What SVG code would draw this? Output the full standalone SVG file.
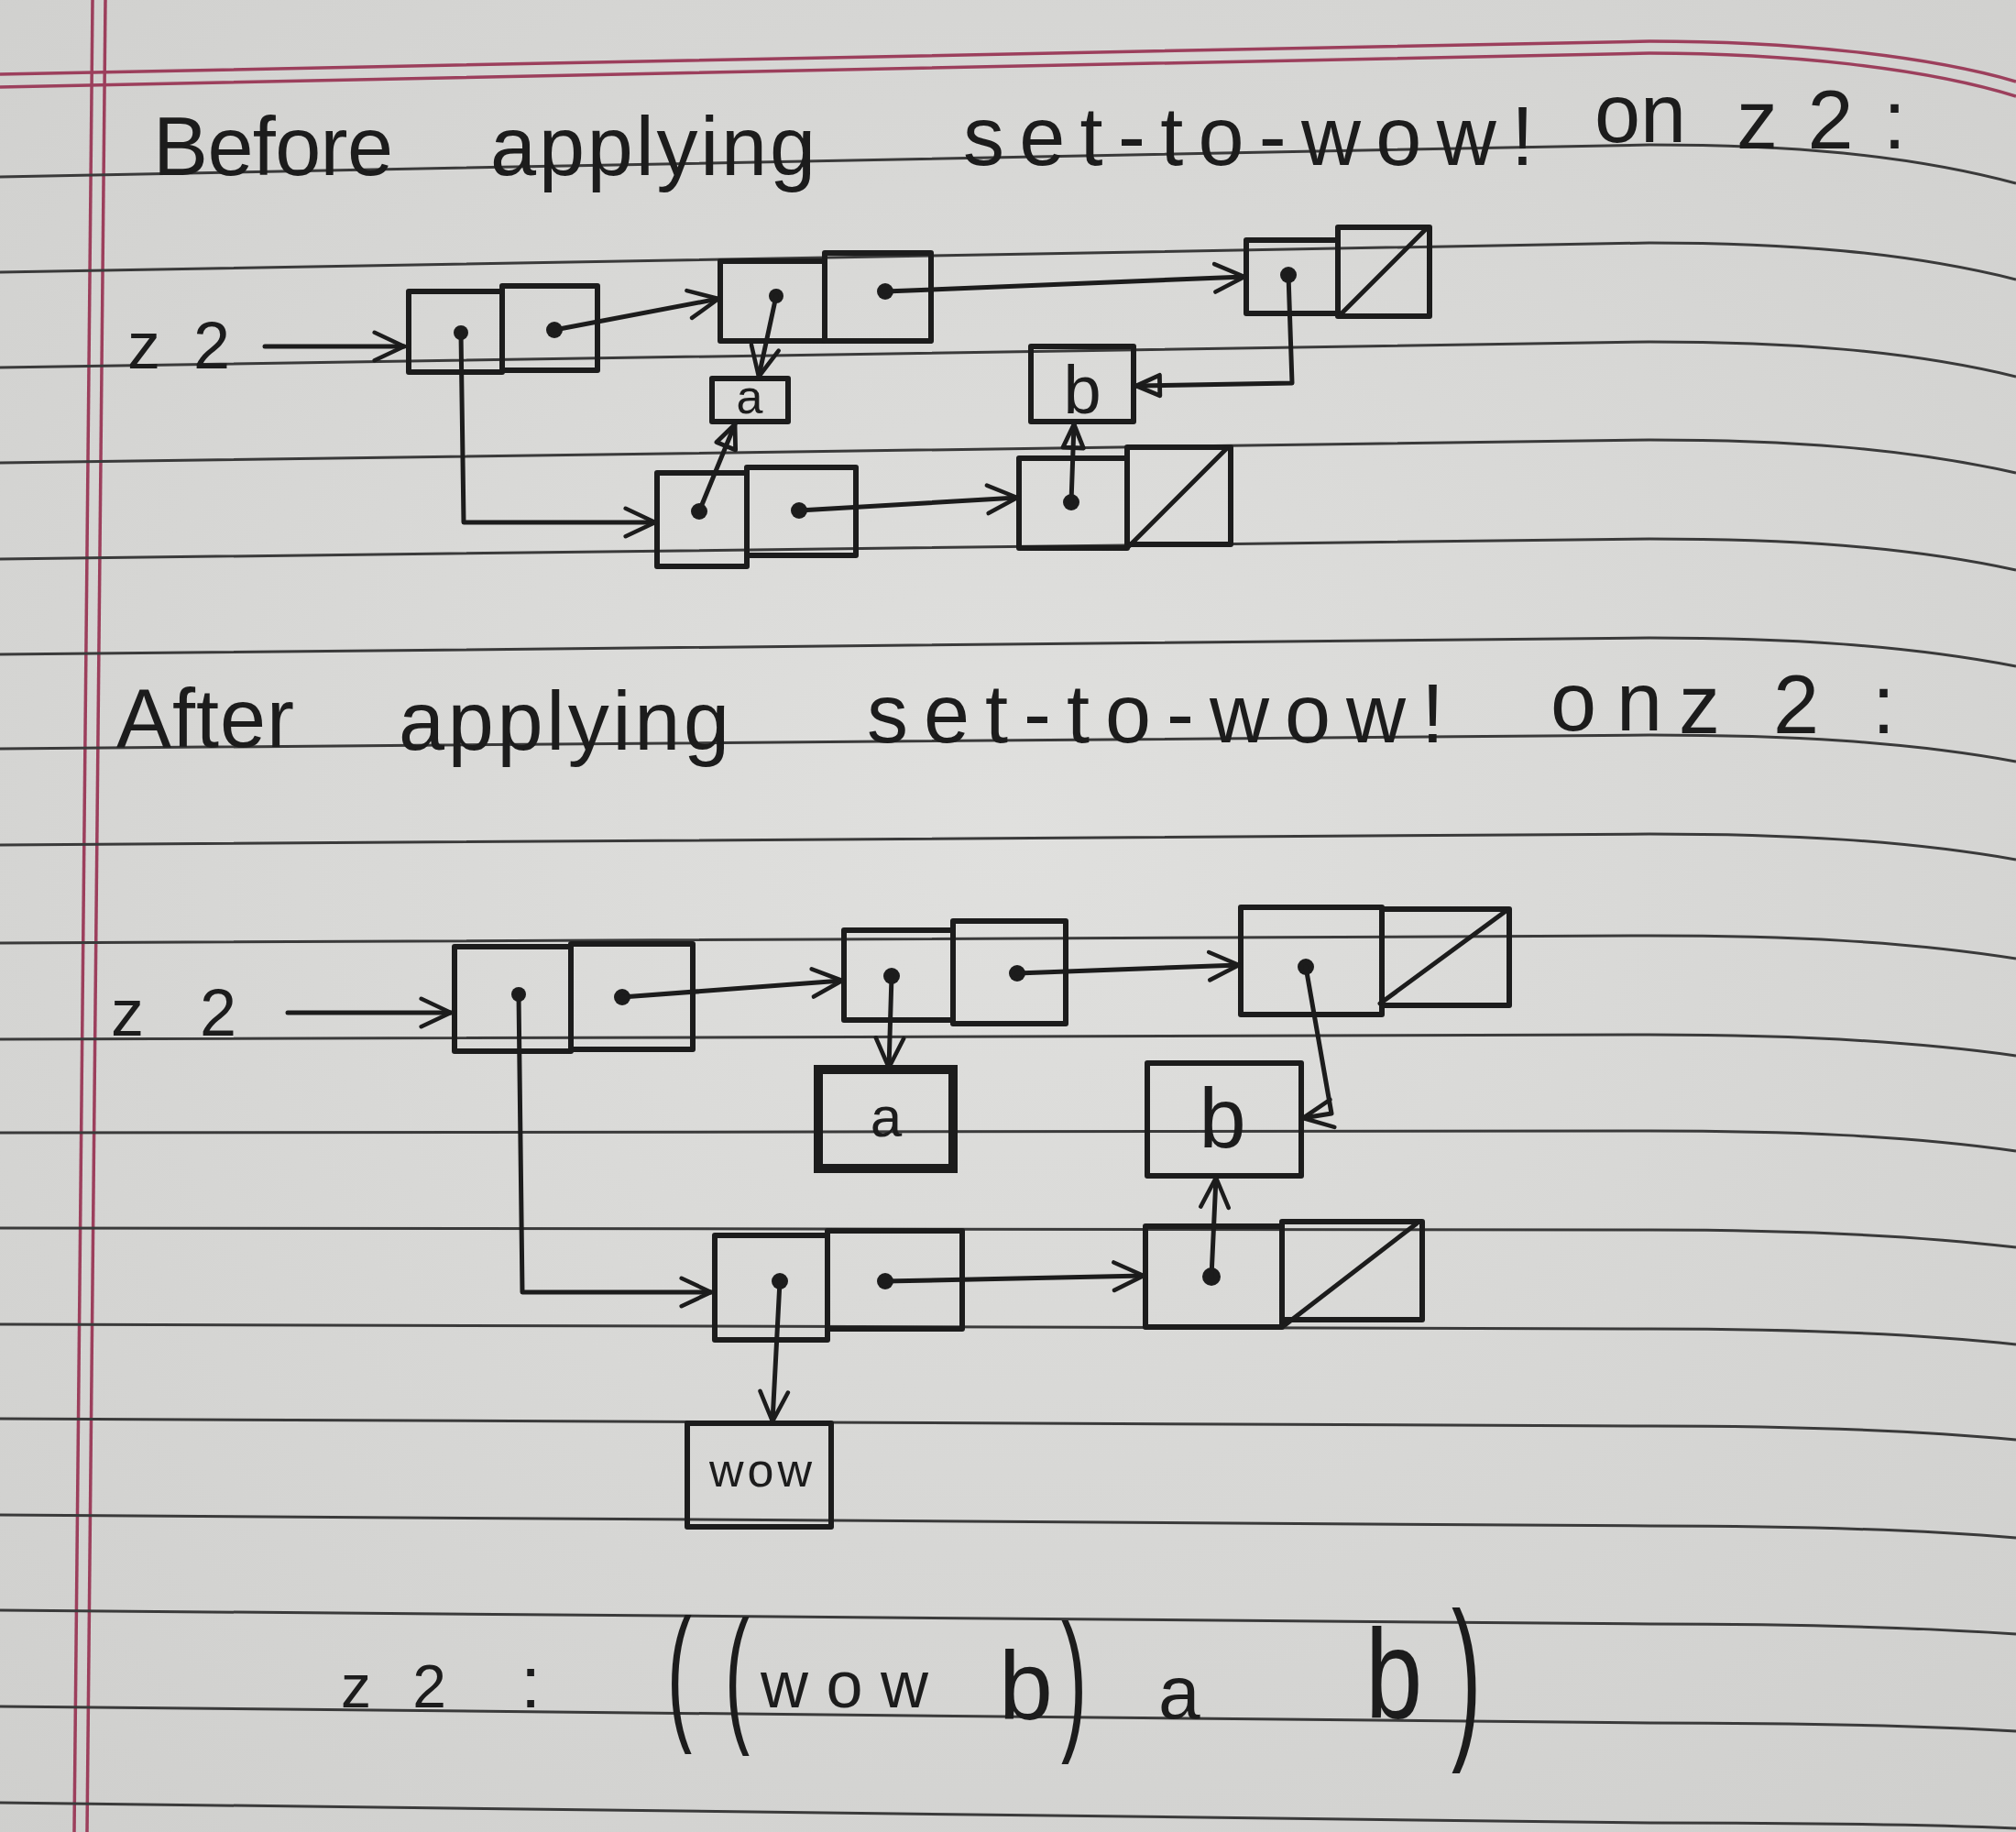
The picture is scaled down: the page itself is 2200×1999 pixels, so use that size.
<svg xmlns="http://www.w3.org/2000/svg" width="2200" height="1999" viewBox="0 0 2200 1999">
<defs>
<radialGradient id="paper" cx="0.5" cy="0.45" r="0.75">
<stop offset="0" stop-color="#e0e0de"/>
<stop offset="1" stop-color="#cfcfcd"/>
</radialGradient>
<marker id="arr" viewBox="0 0 20 20" refX="19" refY="10" markerWidth="38" markerHeight="38" markerUnits="userSpaceOnUse" orient="auto">
<path d="M2,2 L19,10 L2,18" fill="none" stroke="#1c1c1c" stroke-width="2.4" stroke-linecap="round" stroke-linejoin="round"/>
</marker>
<marker id="tri" viewBox="0 0 20 20" refX="19" refY="10" markerWidth="32" markerHeight="32" markerUnits="userSpaceOnUse" orient="auto">
<path d="M3,3 L19,10 L3,17 Z" fill="none" stroke="#1c1c1c" stroke-width="3" stroke-linejoin="round"/>
</marker>
</defs>
<style>
.rule{fill:none;stroke:#3a3a3a;stroke-width:3}
.red{fill:none;stroke:#9c3f5c;stroke-width:3.5}
.box{fill:none;stroke:#1c1c1c;stroke-width:6;stroke-linejoin:round}
.thick{fill:none;stroke:#1c1c1c;stroke-width:10}
.slash{stroke:#1c1c1c;stroke-width:5;stroke-linecap:round}
.dot{fill:#1c1c1c}
.conn{fill:none;stroke:#1c1c1c;stroke-width:5;stroke-linejoin:round;stroke-linecap:round}
.arr{marker-end:url(#arr)}
.tri{marker-end:url(#tri)}
.hw{font-family:"Liberation Sans","DejaVu Sans",sans-serif;fill:#1c1c1c}
.title{font-size:90px}
.lbl{font-size:72px}
.cell{text-anchor:middle}
</style>

<g id="paper-bg">
<rect x="0" y="0" width="2200" height="1999" fill="url(#paper)"/>
<path class="red" d="M0,81 L1800,45 C1950,45 2100,60 2200,89"/>
<path class="red" d="M0,95 L1800,58 C1950,58 2100,74 2200,105"/>
<path class="red" d="M101,0 L81,1999"/>
<path class="red" d="M115,0 L95,1999"/>
<path class="rule" d="M0,193 L1800,158 C1950,158 2080,168 2200,200"/>
<path class="rule" d="M0,297 L1800,265 C1950,265 2080,275 2200,305"/>
<path class="rule" d="M0,401 L1800,373 C1950,373 2080,382 2200,411"/>
<path class="rule" d="M0,505 L1800,480 C1950,480 2080,489 2200,516"/>
<path class="rule" d="M0,610 L1800,588 C1950,588 2080,596 2200,622"/>
<path class="rule" d="M0,714 L1800,696 C1950,696 2080,704 2200,727"/>
<path class="rule" d="M0,817 L1800,802 C1950,802 2080,809 2200,831"/>
<path class="rule" d="M0,922 L1800,910 C1950,910 2080,917 2200,938"/>
<path class="rule" d="M0,1029 L1800,1021 C1950,1021 2080,1027 2200,1046"/>
<path class="rule" d="M0,1134 L1800,1129 C1950,1129 2080,1135 2200,1152"/>
<path class="rule" d="M0,1236 L1800,1234 C1950,1234 2080,1239 2200,1256"/>
<path class="rule" d="M0,1340 L1800,1342 C1950,1342 2080,1347 2200,1361"/>
<path class="rule" d="M0,1445 L1800,1450 C1950,1450 2080,1454 2200,1467"/>
<path class="rule" d="M0,1548 L1800,1556 C1950,1556 2080,1560 2200,1571"/>
<path class="rule" d="M0,1653 L1800,1665 C1950,1665 2080,1668 2200,1678"/>
<path class="rule" d="M0,1757 L1800,1772 C1950,1772 2080,1775 2200,1783"/>
<path class="rule" d="M0,1862 L1800,1880 C1950,1880 2080,1882 2200,1889"/>
<path class="rule" d="M0,1967 L1800,1989 C1950,1989 2080,1990 2200,1995"/>
</g>

<g id="title-before" class="hw title">
<text x="167" y="191" textLength="262" lengthAdjust="spacing">Before</text>
<text x="535" y="191" textLength="355" lengthAdjust="spacing">applying</text>
<text x="1051" y="180" textLength="623" lengthAdjust="spacing">set-to-wow!</text>
<text x="1740" y="155" textLength="100" lengthAdjust="spacing">on</text>
<text x="1895" y="162" textLength="185" lengthAdjust="spacing">z2:</text>
</g>

<g id="before">
<text id="b-z2" class="hw lbl" x="139" y="402" textLength="112" lengthAdjust="spacing">z2</text>
<g id="b-cell1"><rect class="box" x="446" y="318" width="102" height="88"/><rect class="box" x="548" y="312" width="104" height="92"/><circle class="dot" cx="503" cy="363" r="8"/><circle class="dot" cx="605" cy="360" r="9"/></g>
<g id="b-cell2"><rect class="box" x="786" y="285" width="114" height="87"/><rect class="box" x="900" y="276" width="116" height="96"/><circle class="dot" cx="847" cy="323" r="8"/><circle class="dot" cx="966" cy="318" r="9"/></g>
<g id="b-cell5"><rect class="box" x="1360" y="262" width="100" height="80"/><rect class="box" x="1460" y="248" width="100" height="97"/><line class="slash" x1="1463" y1="343" x2="1556" y2="250"/><circle class="dot" cx="1406" cy="300" r="9"/></g>
<g id="b-a"><rect class="box" x="777" y="413" width="83" height="47"/><text class="hw cell" x="818" y="451" font-size="52">a</text></g>
<g id="b-b"><rect class="box" x="1125" y="378" width="112" height="82"/><text class="hw cell" x="1181" y="451" font-size="74">b</text></g>
<g id="b-cell3"><rect class="box" x="717" y="516" width="98" height="102"/><rect class="box" x="815" y="510" width="119" height="96"/><circle class="dot" cx="763" cy="558" r="9"/><circle class="dot" cx="872" cy="557" r="9"/></g>
<g id="b-cell4"><rect class="box" x="1112" y="500" width="118" height="98"/><rect class="box" x="1230" y="488" width="113" height="106"/><line class="slash" x1="1232" y1="596" x2="1338" y2="490"/><circle class="dot" cx="1169" cy="548" r="9"/></g>
</g>

<g id="before-connectors">
<path class="conn arr" d="M289,378 L441,378"/>
<path class="conn arr" d="M605,360 L784,326"/>
<path class="conn arr" d="M503,363 L506,570 L715,570"/>
<path class="conn arr" d="M847,323 L828,411"/>
<path class="conn arr" d="M966,318 L1358,302"/>
<path class="conn tri" d="M1406,300 L1410,418 L1240,421"/>
<path class="conn tri" d="M763,558 L802,463"/>
<path class="conn arr" d="M872,557 L1110,543"/>
<path class="conn tri" d="M1169,548 L1172,463"/>
</g>

<g id="title-after" class="hw title">
<text x="127" y="815" textLength="194" lengthAdjust="spacing">After</text>
<text x="435" y="818" textLength="361" lengthAdjust="spacing">applying</text>
<text x="946" y="810" textLength="630" lengthAdjust="spacing">set-to-wow!</text>
<text x="1692" y="797" textLength="122" lengthAdjust="spacing">on</text>
<text x="1832" y="800" textLength="236" lengthAdjust="spacing">z2:</text>
</g>

<g id="after">
<text id="a-z2" class="hw lbl" x="121" y="1130" textLength="137" lengthAdjust="spacing">z2</text>
<g id="a-cell1"><rect class="box" x="496" y="1033" width="127" height="114"/><rect class="box" x="623" y="1030" width="133" height="115"/><circle class="dot" cx="566" cy="1085" r="8"/><circle class="dot" cx="679" cy="1088" r="9"/></g>
<g id="a-cell2"><rect class="box" x="921" y="1015" width="119" height="98"/><rect class="box" x="1040" y="1005" width="123" height="112"/><circle class="dot" cx="973" cy="1065" r="9"/><circle class="dot" cx="1110" cy="1062" r="9"/></g>
<g id="a-cell4"><rect class="box" x="1354" y="990" width="154" height="117"/><rect class="box" x="1508" y="992" width="139" height="105"/><line class="slash" x1="1506" y1="1095" x2="1642" y2="995"/><circle class="dot" cx="1425" cy="1055" r="9"/></g>
<g id="a-a"><rect class="thick" x="893" y="1167" width="147" height="108"/><text class="hw cell" x="967" y="1240" font-size="62">a</text></g>
<g id="a-b"><rect class="box" x="1252" y="1160" width="168" height="123"/><text class="hw cell" x="1334" y="1252" font-size="92">b</text></g>
<g id="a-cell3"><rect class="box" x="780" y="1348" width="123" height="114"/><rect class="box" x="903" y="1343" width="147" height="107"/><circle class="dot" cx="851" cy="1398" r="9"/><circle class="dot" cx="966" cy="1398" r="9"/></g>
<g id="a-cell5"><rect class="box" x="1250" y="1338" width="149" height="110"/><rect class="box" x="1399" y="1333" width="153" height="107"/><line class="slash" x1="1402" y1="1446" x2="1546" y2="1335"/><circle class="dot" cx="1322" cy="1393" r="10"/></g>
<g id="a-wow"><rect class="box" x="750" y="1553" width="157" height="113"/><text class="hw cell" x="830" y="1622" font-size="52" textLength="112" lengthAdjust="spacing">wow</text></g>
</g>

<g id="after-connectors">
<path class="conn arr" d="M314,1105 L492,1105"/>
<path class="conn arr" d="M679,1088 L919,1070"/>
<path class="conn arr" d="M566,1085 L570,1410 L776,1410"/>
<path class="conn arr" d="M973,1065 L970,1165"/>
<path class="conn arr" d="M1110,1062 L1352,1053"/>
<path class="conn arr" d="M1425,1055 L1453,1215 L1422,1220"/>
<path class="conn arr" d="M1322,1393 L1327,1285"/>
<path class="conn arr" d="M966,1398 L1248,1392"/>
<path class="conn arr" d="M851,1398 L843,1551"/>
</g>

<g id="result" class="hw">
<text x="372" y="1863" font-size="66" textLength="115" lengthAdjust="spacing">z2</text>
<text x="568" y="1863" font-size="80">:</text>
<text transform="translate(728,1880) scale(0.65,1.3)" font-size="125">(</text>
<text transform="translate(791,1882) scale(0.65,1.3)" font-size="125">(</text>
<text x="830" y="1863" font-size="72" textLength="183" lengthAdjust="spacing">wow</text>
<text x="1090" y="1876" font-size="106">b</text>
<text transform="translate(1158,1890) scale(0.65,1.3)" font-size="130">)</text>
<text x="1264" y="1875" font-size="82" textLength="88" lengthAdjust="spacing">a</text>
<text transform="translate(1490,1875) scale(0.8,1)" font-size="140">b</text>
<text transform="translate(1584,1895) scale(0.65,1.3)" font-size="150">)</text>
</g>
</svg>
